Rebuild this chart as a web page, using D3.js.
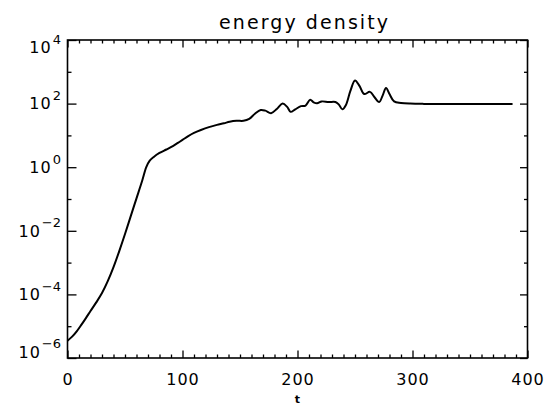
<!DOCTYPE html>
<html>
<head>
<meta charset="utf-8">
<script src="https://cdn.jsdelivr.net/npm/d3@7"></script>
<style>
  html, body { margin: 0; background: #fff; }
  svg { display: block; }
  text { font-family: "DejaVu Sans", sans-serif; fill: #000; }
</style>
</head>
<body>
<svg id="chart"></svg>
<script>
// time samples and energy density
const tValues = [0, 4, 8, 12, 16, 20, 25, 30, 35, 40, 45, 50, 55, 60, 65, 68.5, 71.5, 75, 80,
  86, 92, 96, 100, 105, 110, 116, 123, 130, 136, 141, 147, 153, 158, 163, 168, 172, 177, 182, 187,
  191, 194, 198, 203, 207, 211, 214, 217, 221, 227, 233, 236, 239, 242, 246, 250, 254, 258, 263, 267,
  271, 274, 277, 280, 284, 290, 298, 310, 387];
const energy = [3.5e-6, 4.7e-6, 6.9e-6, 1.1e-5, 1.8e-5, 3.0e-5, 5.6e-5, 1.1e-4, 2.6e-4, 7.2e-4, 2.3e-3, 7.9e-3, 0.029, 0.105, 0.38, 1.0, 1.6, 2.1, 2.8,
  3.6, 4.7, 5.8, 7.2, 9.5, 12, 14.8, 18.2, 21.4, 24, 26.9, 28.8, 28.8, 33, 48, 63, 60, 50, 68, 100,
  79, 55, 66, 83, 87, 132, 110, 102, 117, 112, 112, 93, 66, 89, 251, 537, 355, 200, 234, 158,
  112, 178, 309, 200, 117, 105, 100, 98, 98];

const tDomain = [0, 400];
const tMajor = [0, 100, 200, 300, 400];
const yDomain = [1e-6, 1e4];
const yMajorExp = [4, 2, 0, -2, -4, -6];
const yMinorExp = [3, 1, -1, -3, -5];

const width = 546, height = 408;
const margin = { top: 40, right: 18.5, bottom: 50, left: 67.5 };
const plotLeft = margin.left, plotRight = width - margin.right;
const plotTop = margin.top, plotBottom = height - margin.bottom;

const svg = d3.select('#chart')
  .attr('width', width)
  .attr('height', height)
  .attr('viewBox', `0 0 ${width} ${height}`);

const x = d3.scaleLinear().domain(tDomain).range([plotLeft, plotRight]);
const y = d3.scaleLog().domain(yDomain).range([plotBottom, plotTop]);

const minorT = x.ticks(40).filter(d => !tMajor.includes(d));
const yMajor = yMajorExp.map(e => Math.pow(10, e));
const yMinor = yMinorExp.map(e => Math.pow(10, e));

// tick marks on all four sides, pointing inward
function ticks(axis, values, size, transform) {
  const g = svg.append('g')
    .attr('transform', transform)
    .call(axis.tickValues(values).tickSize(size).tickFormat(''));
  g.select('.domain').remove();
  g.selectAll('line').attr('stroke', '#000').attr('stroke-width', 1.3);
}
ticks(d3.axisBottom(x), minorT, -3.5, `translate(0,${plotBottom})`);
ticks(d3.axisBottom(x), tMajor, -7.5, `translate(0,${plotBottom})`);
ticks(d3.axisTop(x), minorT, -3.5, `translate(0,${plotTop})`);
ticks(d3.axisTop(x), tMajor, -7.5, `translate(0,${plotTop})`);
ticks(d3.axisLeft(y), yMinor, -4, `translate(${plotLeft},0)`);
ticks(d3.axisLeft(y), yMajor, -9, `translate(${plotLeft},0)`);
ticks(d3.axisRight(y), yMinor, -3.5, `translate(${plotRight},0)`);
ticks(d3.axisRight(y), yMajor, -7.5, `translate(${plotRight},0)`);

// frame
svg.append('rect')
  .attr('x', plotLeft).attr('y', plotTop)
  .attr('width', plotRight - plotLeft).attr('height', plotBottom - plotTop)
  .attr('fill', 'none')
  .attr('stroke', '#000')
  .attr('stroke-width', 1.6);

// curve
const line = d3.line()
  .x((d, i) => x(tValues[i]))
  .y(d => y(d))
  .curve(d3.curveCatmullRom.alpha(0.5));

svg.append('path')
  .datum(energy)
  .attr('fill', 'none')
  .attr('stroke', '#000')
  .attr('stroke-width', 2)
  .attr('stroke-linejoin', 'round')
  .attr('d', line);

// x tick labels
svg.append('g').selectAll('text')
  .data(tMajor)
  .join('text')
  .attr('x', d => x(d) + 0.5)
  .attr('y', 384.5)
  .attr('text-anchor', 'middle')
  .attr('font-size', 16)
  .attr('letter-spacing', 1)
  .text(d => d);

// y tick labels: 10 with superscript exponent, kept inside the frame height
const cap = 11.7;
const ylab = svg.append('g').selectAll('text')
  .data(yMajorExp)
  .join('text')
  .attr('x', 61)
  .attr('y', e => {
    const base = y(Math.pow(10, e)) + cap / 2;
    return Math.min(Math.max(base, plotTop + 1.4 + cap), plotBottom - 0.5);
  })
  .attr('text-anchor', 'end')
  .attr('font-size', 16);
ylab.append('tspan').attr('letter-spacing', 1).text('10');
ylab.append('tspan')
  .attr('dy', -9.5)
  .attr('dx', 1)
  .attr('font-size', 13)
  .text(e => String(e).replace('-', '\u2212'));

// title and axis label
svg.append('text')
  .attr('x', 219)
  .attr('y', 28.5)
  .attr('font-size', 19)
  .attr('textLength', 169)
  .attr('lengthAdjust', 'spacing')
  .text('energy density');

svg.append('text')
  .attr('x', (plotLeft + plotRight) / 2)
  .attr('y', 403)
  .attr('text-anchor', 'middle')
  .attr('font-size', 11)
  .attr('font-weight', 'bold')
  .text('t');
</script>
</body>
</html>
